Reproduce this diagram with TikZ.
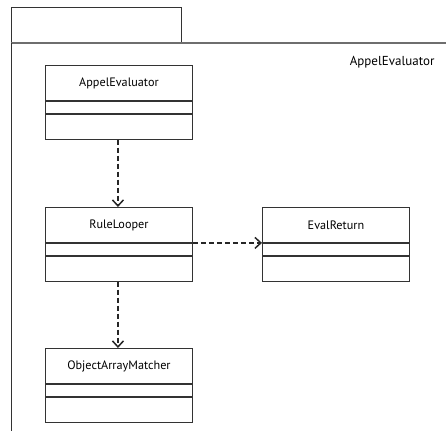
\documentclass[tikz,border=0pt]{standalone}
\usepackage{fontspec}
\setmainfont{PT Sans}
\usepackage{tikz}
\usetikzlibrary{arrows.meta, positioning}
\usepackage{xcolor}

\definecolor{umlline}{HTML}{333333}
\definecolor{frameline}{HTML}{6E6E6E}

\begin{document}
\begin{tikzpicture}[x=1pt,y=-1pt,node distance=0pt,
    font=\fontsize{12.2}{14}\selectfont]
  \tikzset{
    classname/.style={draw=umlline,line width=0.9pt,minimum width=147pt,
      minimum height=35pt,inner sep=0pt,anchor=north west},
    classpart/.style={draw=umlline,line width=0.9pt,minimum width=147pt,
      minimum height=#1,inner sep=0pt},
    depends/.style={draw=black!85,line width=1.4pt,dash pattern=on 5pt off 3pt,
      -{Straight Barb[length=6pt,width=11pt,line width=1.5pt]}}
  }
  \useasboundingbox (0,0) rectangle (446,431);

  % frame
  \draw[umlline,line width=0.9pt] (11,43) rectangle (181,7);
  \draw[frameline,line width=1.2pt] (11,43) -- (446,43);
  \draw[umlline,line width=0.9pt] (11,43) -- (11,431);
  \node[anchor=east,font=\fontsize{13}{15}\selectfont] (frame-label) at (438,62) {AppelEvaluator};

  % classes
  \node[classname] (appel)       at (45,65)   {AppelEvaluator};
  \node[classpart=12pt] (appel-attr) [below=of appel]      {};
  \node[classpart=25pt] (appel-ops)  [below=of appel-attr] {};

  \node[classname] (looper)      at (45,207)  {RuleLooper};
  \node[classpart=12pt] (looper-attr) [below=of looper]      {};
  \node[classpart=25pt] (looper-ops)  [below=of looper-attr] {};

  \node[classname] (evalret)     at (262,207) {EvalReturn};
  \node[classpart=12pt] (evalret-attr) [below=of evalret]      {};
  \node[classpart=25pt] (evalret-ops)  [below=of evalret-attr] {};

  \node[classname] (matcher)     at (45,348)  {ObjectArrayMatcher};
  \node[classpart=12pt] (matcher-attr) [below=of matcher]      {};
  \node[classpart=25pt] (matcher-ops)  [below=of matcher-attr] {};

  % dependencies
  \draw[depends] ([xshift=-1pt]appel-ops.south)  -- ([xshift=-1pt]looper.north);
  \draw[depends] ([xshift=-1pt]looper-ops.south) -- ([xshift=-1pt]matcher.north);
  \draw[depends] (looper.south east) -- (evalret.south west);
\end{tikzpicture}
\end{document}
